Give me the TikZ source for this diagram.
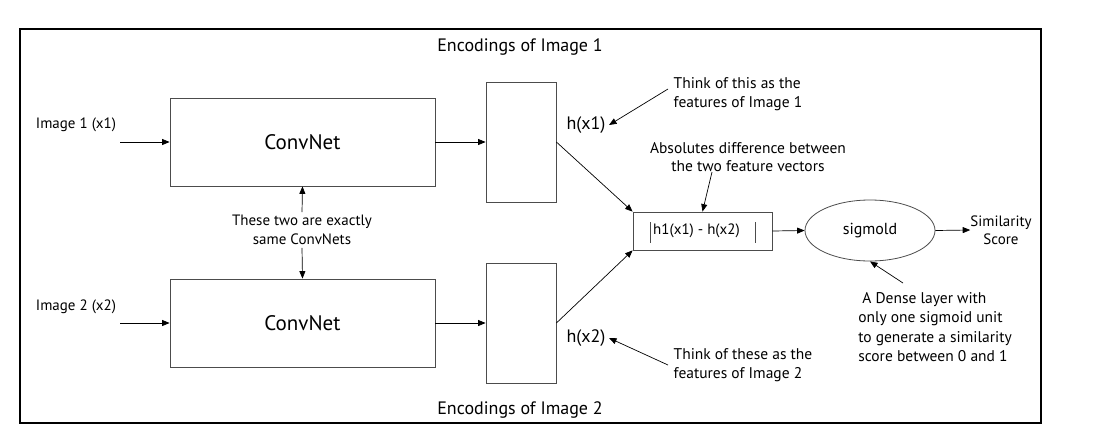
\documentclass[tikz,border=0pt]{standalone}
\usepackage{fontspec}
\setmainfont{PT Sans}
\usetikzlibrary{arrows.meta,shapes.geometric}

\begin{document}
\begin{tikzpicture}[x=1pt, y=-1pt,
    font=\fontsize{15}{18.5}\selectfont,
    box/.style={draw=black!70, line width=0.8pt, inner sep=0pt},
    conv/.style={box, minimum width=265pt, minimum height=88pt,
                 font=\fontsize{21}{24}\selectfont},
    enc/.style={box, minimum width=70pt, minimum height=120pt},
    link/.style={line width=0.7pt, -{Triangle[length=7.5pt,width=6pt]}},
    big/.style={font=\fontsize{18}{21}\selectfont},
    note/.style={align=left, inner sep=0pt, font=\fontsize{15.5}{18.5}\selectfont}]
  \useasboundingbox (0,0) rectangle (1108,445);
  % the frame
  \draw[line width=2.8pt] (20,29) rectangle (1041,423);

  % the two branches
  \node[conv] (conv1) at (302.5,142) {ConvNet};
  \node[conv] (conv2) at (302.5,323) {ConvNet};
  \node[enc] (enc1) at (521,142) {};
  \node[enc] (enc2) at (521,323) {};

  \node (in1) at (76,125) {Image 1 (x1)};
  \node (in2) at (76,307) {Image 2 (x2)};
  \coordinate (s1) at (120,142);
  \coordinate (s2) at (120,323);
  \draw[link] (s1) -- (conv1.west);
  \draw[link] (s2) -- (conv2.west);
  \draw[link] (conv1.east) -- (enc1.west);
  \draw[link] (conv2.east) -- (enc2.west);

  \node[big] (enclbl1) at (520,47) {Encodings of Image 1};
  \node[big] (enclbl2) at (520,410) {Encodings of Image 2};
  \node[big] (h1) at (586,125) {h(x1)};
  \node[big] (h2) at (586,338) {h(x2)};

  % shared weights remark
  \node[align=center, inner sep=0pt] (same) at (302,230)
    {These two are exactly\\same ConvNets};
  \draw[link] (same.north) ++(0,-3) -- (conv1.south);
  \draw[link] (same.south) ++(0,3) -- (conv2.north);

  % notes on the encodings
  \node[note] (feat1) at (738,94) {Think of this as the\\features of Image 1};
  \node[note] (feat2) at (743,365) {Think of these as the\\features of Image 2};
  \coordinate (f1) at (668,89);
  \coordinate (f2) at (668,365);
  \draw[link] (f1) -- (h1.east);
  \draw[link] (f2) -- (h2.east);

  % distance and output
  \node[box, minimum width=139pt, minimum height=38pt] (diff) at (702.5,231)
    {\hspace*{-12pt}h1(x1) - h(x2)};
  \draw[line width=0.7pt, black!70] (650,222) -- (650,243);
  \draw[line width=0.7pt, black!70] (755,222) -- (755,243);
  \draw[link] (enc1.east) -- (diff.north west);
  \draw[link] (enc2.east) -- (diff.south west);

  \node[note, align=center] (absd) at (748,157)
    {Absolutes difference between\\the two feature vectors};
  \coordinate (a1) at (712,172);
  \draw[link] (a1) -- (diff.north);

  \node[box, ellipse, minimum width=130pt, minimum height=61pt,
        font=\fontsize{16}{19}\selectfont] (sig) at (870,230.5) {sigmold};
  \draw[link] (diff.east) -- (sig.west);
  \node[align=center, inner sep=0pt] (score) at (1001,230) {Similarity\\Score};
  \draw[link] (sig.east) -- (score.west);

  \node[note, font=\fontsize{15.5}{19.5}\selectfont] (dense) at (935,327)
    {\ A Dense layer with\\only one sigmoid unit\\to generate a similarity\\score between 0 and 1};
  \coordinate (d1) at (903,283);
  \draw[link] (d1) -- (sig.south);
\end{tikzpicture}
\end{document}
